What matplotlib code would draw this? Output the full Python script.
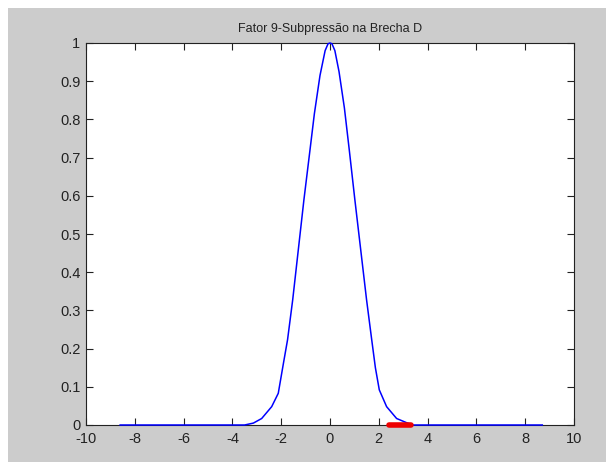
import matplotlib
matplotlib.use("Agg")
import matplotlib.pyplot as plt
from matplotlib.patches import Rectangle

# Data
curve_x = [-8.6, -3.5, -3.14, -2.8, -2.39, -2.12, -1.91, -1.74, -1.53, -1.30, -1.07,
           -0.82, -0.64, -0.41, -0.2, -0.08, 0.0, 0.08, 0.2, 0.37, 0.59, 0.79, 1.02, 1.26, 1.50,
           1.71, 1.86, 2.02, 2.32, 2.73, 3.14, 3.4, 8.7]
curve_y = [0.0, 0.0, 0.005, 0.017, 0.048, 0.083, 0.161, 0.223, 0.327, 0.458, 0.589,
           0.72, 0.815, 0.915, 0.98, 0.998, 1.0, 0.998, 0.98, 0.925, 0.83, 0.72, 0.589, 0.458, 0.327,
           0.223, 0.150, 0.092, 0.048, 0.017, 0.006, 0.0, 0.0]
red_x = [2.4, 3.3]
red_y = [0.0, 0.0]
x_ticks = list(range(-10, 11, 2))
y_ticks = [0, 0.1, 0.2, 0.3, 0.4, 0.5, 0.6, 0.7, 0.8, 0.9, 1]
y_tick_labels = ["0", "0.1", "0.2", "0.3", "0.4", "0.5", "0.6", "0.7", "0.8", "0.9", "1"]
title = "Fator 9-Subpressão na Brecha D"

plt.rcParams['font.family'] = ['Liberation Sans', 'DejaVu Sans']

W, H = 606, 462
fig = plt.figure(figsize=(W / 100, H / 100), dpi=100, facecolor='white')
fig.patches.append(Rectangle((8 / W, 0), 1 - 8 / W, 1 - 8 / H, transform=fig.transFigure,
                             facecolor='#cccccc', edgecolor='none', zorder=-10))

ax = fig.add_axes([86 / W, 37 / H, 488 / W, 382 / H])
ax.set_facecolor('white')
ax.plot(curve_x, curve_y, color='#0000ff', lw=1.1, clip_on=False, zorder=3)
ax.plot(red_x, red_y, color='#ee0000', lw=4, solid_capstyle='round', clip_on=False, zorder=4)

ax.set_xlim(-10, 10)
ax.set_ylim(0, 1)
ax.set_xticks(x_ticks)
ax.set_xticklabels([str(t) for t in x_ticks])
ax.set_yticks(y_ticks)
ax.set_yticklabels(y_tick_labels)
ax.tick_params(direction='in', length=5, width=0.8, top=True, right=True,
               labelsize=10.5, colors='#222222')
ax.tick_params(axis='x', pad=5)
ax.tick_params(axis='y', pad=4)
for s in ax.spines.values():
    s.set_color('#222222')
    s.set_linewidth(0.8)
ax.set_title(title, fontsize=9, color='#222222', pad=8)

fig.savefig("out.png", dpi=100, facecolor=fig.get_facecolor())
